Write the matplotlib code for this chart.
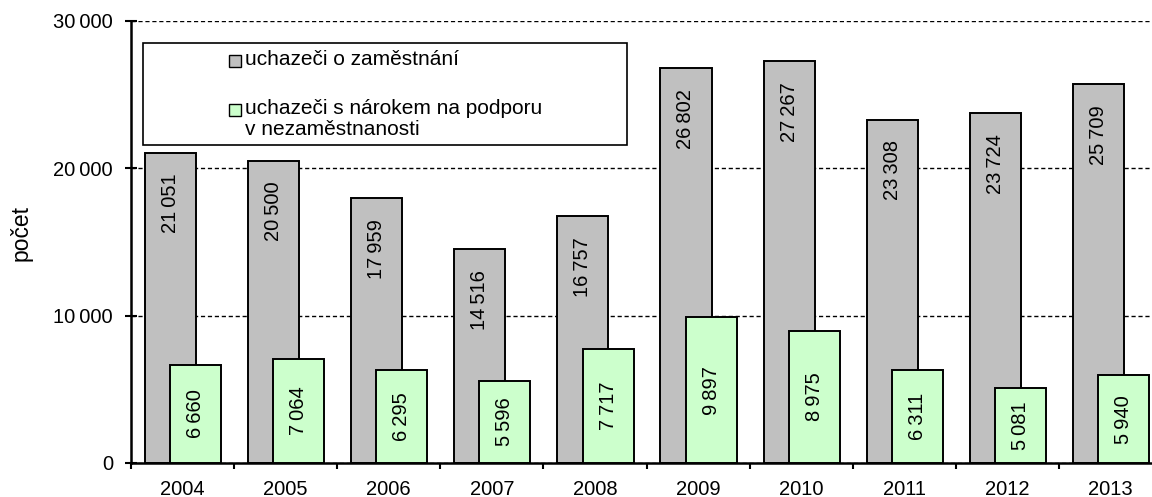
import matplotlib.pyplot as plt
import matplotlib.patches as mpatches
import numpy as np

plt.rcParams["font.family"] = ["Liberation Sans", "DejaVu Sans"]

# Data
years = ["2004", "2005", "2006", "2007", "2008", "2009", "2010", "2011", "2012", "2013"]
uchazeci = [21051, 20500, 17959, 14516, 16757, 26802, 27267, 23308, 23724, 25709]
s_narokem = [6660, 7064, 6295, 5596, 7717, 9897, 8975, 6311, 5081, 5940]
y_ticks = [0, 10000, 20000, 30000]

label_gray = "uchazeči o zaměstnání"
label_green = "uchazeči s nárokem na podporu\nv nezaměstnanosti"

c_gray = "#C0C0C0"
c_green = "#CCFFCC"


def fmt(v):
    return f"{v:,}".replace(",", "\u2009")


fig = plt.figure(figsize=(11.52, 4.97), dpi=100)
W, H = 1152, 497
ax = fig.add_axes([131 / W, 34 / H, 1031 / W, 442 / H])

x = np.arange(len(years))
width = 0.495
bars1 = ax.bar(x - 0.117, uchazeci, width, color=c_gray, edgecolor="black", linewidth=1.4, zorder=2)
bars2 = ax.bar(x + 0.127, s_narokem, width, color=c_green, edgecolor="black", linewidth=1.4, zorder=3)

# value labels
for bar, v in zip(bars1, uchazeci):
    ax.annotate(fmt(v), (bar.get_x() + bar.get_width() / 2, v), xytext=(0, -15),
                textcoords="offset points", rotation=90, ha="center", va="top",
                fontsize=14.5, zorder=4)
for bar, v in zip(bars2, s_narokem):
    ax.text(bar.get_x() + bar.get_width() / 2, v / 2, fmt(v), rotation=90,
            ha="center", va="center", fontsize=14.5, zorder=4)

# axes
ax.set_xlim(-0.5, len(years) - 0.5)
ax.set_ylim(0, 30000)
ax.set_xticks(np.arange(-0.5, len(years), 1))
ax.set_xticklabels([])
ax.set_xticks(x, minor=True)
ax.set_xticklabels(years, minor=True, fontsize=14.5)
ax.tick_params(axis="x", which="major", direction="out", length=4, width=1.5)
ax.tick_params(axis="x", which="minor", length=0, pad=12)
ax.set_yticks(y_ticks)
ax.set_yticklabels([fmt(v) for v in y_ticks], fontsize=14.5)
ax.tick_params(axis="y", direction="inout", length=8, width=1.5, pad=9)

ax.yaxis.grid(True, color="black", linestyle=(0, (3, 2)), linewidth=1)
ax.set_axisbelow(True)
for s in ["top", "right"]:
    ax.spines[s].set_visible(False)
for s in ["left", "bottom"]:
    ax.spines[s].set_linewidth(1.8)

ax.set_ylabel("počet", fontsize=16.5)
ax.yaxis.set_label_coords(-0.095, 0.52)

# legend box
fig.patches.append(mpatches.Rectangle((143 / W, 1 - 145 / H), 484 / W, 102 / H,
                                      transform=fig.transFigure, facecolor="white",
                                      edgecolor="black", linewidth=1.2, zorder=5))
for (yc, col, lab) in [(61, c_gray, label_gray), (110, c_green, label_green)]:
    fig.patches.append(mpatches.Rectangle((229 / W, 1 - (yc + 6) / H), 12 / W, 12 / H,
                                          transform=fig.transFigure, facecolor=col,
                                          edgecolor="black", linewidth=1, zorder=6))
    fig.text(245 / W, 1 - (yc - 11) / H, lab, fontsize=15, ha="left", va="top",
             linespacing=1.15, zorder=7)

plt.savefig("out.png", dpi=100, facecolor="white")
